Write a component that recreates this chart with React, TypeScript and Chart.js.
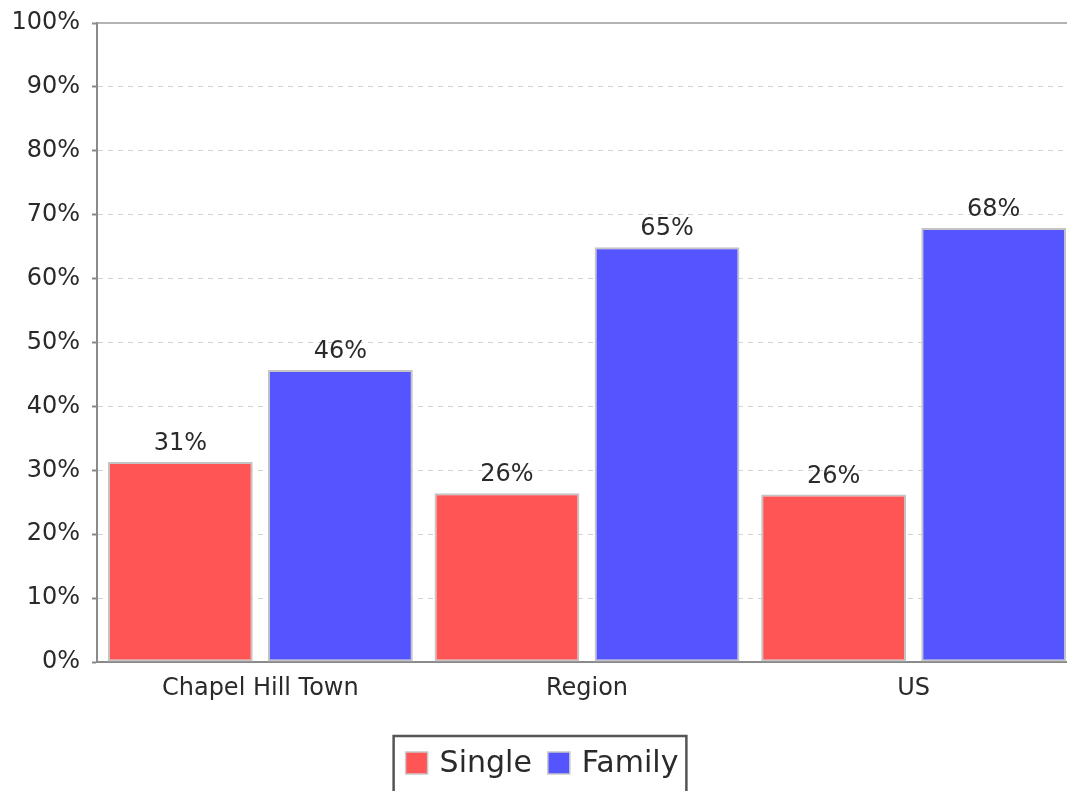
import React, { useEffect, useRef } from "react";
import { Chart, registerables } from "chart.js";

Chart.register(...registerables);

const categories = ["Chapel Hill Town", "Region", "US"];
const seriesNames = ["Single", "Family"];
const singleValues = [31.3, 26.4, 26.2];
const familyValues = [45.7, 64.9, 67.9];
const seriesColors = ["#FF5555", "#5555FF"];
const yMin = 0;
const yMax = 100;
const yStep = 10;

const FONT = "'DejaVu Sans', 'Liberation Sans', sans-serif";
const TEXT = "#2a2a2a";
const CANVAS_W = 1077;
const CANVAS_H = 791;

export default function App() {
  const ref = useRef<HTMLCanvasElement | null>(null);

  useEffect(() => {
    const canvas = ref.current;
    if (!canvas) return;

    const valueLabels = {
      id: "valueLabels",
      afterDatasetsDraw(chart: any) {
        const ctx = chart.ctx;
        ctx.save();
        ctx.font = `24px ${FONT}`;
        ctx.fillStyle = TEXT;
        ctx.textAlign = "center";
        ctx.textBaseline = "alphabetic";
        chart.data.datasets.forEach((ds: any, di: number) => {
          const meta = chart.getDatasetMeta(di);
          meta.data.forEach((bar: any, i: number) => {
            const v = ds.data[i] as number;
            ctx.fillText(`${Math.round(v)}%`, bar.x, bar.y - 12);
          });
        });
        ctx.restore();
      },
    };

    const outline = {
      id: "outline",
      afterDraw(chart: any) {
        const { ctx, chartArea } = chart;
        ctx.save();
        ctx.strokeStyle = "#9a9a9a";
        ctx.lineWidth = 1.5;
        ctx.beginPath();
        ctx.moveTo(chartArea.left, chartArea.top);
        ctx.lineTo(chartArea.right, chartArea.top);
        ctx.stroke();
        ctx.restore();
      },
    };

    const boxLegend = {
      id: "boxLegend",
      afterDraw(chart: any) {
        const ctx = chart.ctx;
        ctx.save();
        ctx.font = `30px ${FONT}`;
        const sw = 22;
        const gapSwText = 12;
        const gapItems = 16;
        const padL = 12;
        const padR = 8;
        const items = chart.data.datasets.map((ds: any) => ({
          label: ds.label as string,
          color: ds.backgroundColor as string,
          w: ctx.measureText(ds.label).width,
        }));
        let total = padL + padR;
        items.forEach((it: any, i: number) => {
          total += sw + gapSwText + it.w + (i > 0 ? gapItems : 0);
        });
        const left = chart.width / 2 - total / 2 + 1.5;
        const top = 736;
        ctx.strokeStyle = "#555555";
        ctx.lineWidth = 2.5;
        ctx.strokeRect(left, top, total, 80);
        let x = left + padL;
        const cy = 763;
        items.forEach((it: any) => {
          ctx.fillStyle = it.color;
          ctx.fillRect(x, cy - sw / 2, sw, sw);
          ctx.strokeStyle = "#c8c8c8";
          ctx.lineWidth = 1.5;
          ctx.strokeRect(x, cy - sw / 2, sw, sw);
          x += sw + gapSwText;
          ctx.fillStyle = TEXT;
          ctx.textAlign = "left";
          ctx.textBaseline = "middle";
          ctx.fillText(it.label, x, cy + 1);
          x += it.w + gapItems;
        });
        ctx.restore();
      },
    };

    const barStyle = {
      borderColor: "#c4c4c4",
      borderWidth: 2,
      borderSkipped: false,
      categoryPercentage: 0.98,
      barPercentage: 0.905,
    };

    const chart = new Chart(canvas, {
      type: "bar",
      data: {
        labels: categories,
        datasets: [
          {
            label: seriesNames[0],
            data: singleValues,
            backgroundColor: seriesColors[0],
            ...barStyle,
          },
          {
            label: seriesNames[1],
            data: familyValues,
            backgroundColor: seriesColors[1],
            ...barStyle,
          },
        ],
      },
      options: {
        responsive: false,
        animation: false,
        layout: { padding: { top: 23, right: 0, left: 0, bottom: 0 } },
        plugins: {
          legend: { display: false },
          tooltip: { enabled: false },
          title: { display: false },
        },
        scales: {
          x: {
            grid: { display: false, drawTicks: false },
            border: { display: true, color: "#8a8a8a", width: 2 },
            ticks: {
              color: TEXT,
              font: { family: FONT, size: 24 },
              padding: 12,
              maxRotation: 0,
            },
            afterFit(scale: any) {
              scale.height = 129;
            },
          },
          y: {
            min: yMin,
            max: yMax,
            grid: {
              color: (c: any) =>
                c.tick && (c.tick.value === yMax || c.tick.value === yMin)
                  ? "rgba(0,0,0,0)"
                  : "#d2d2d2",
              lineWidth: 1,
              drawTicks: true,
              tickLength: 5,
              tickColor: "#8a8a8a",
              tickWidth: 2,
            },
            border: { display: true, color: "#8a8a8a", width: 2, dash: [5, 5] },
            ticks: {
              stepSize: yStep,
              color: TEXT,
              font: { family: FONT, size: 24 },
              padding: 12,
              callback: (v: any) => `${v}%`,
            },
            afterFit(scale: any) {
              scale.width = 97;
              scale.paddingTop = 0;
              scale.paddingBottom = 0;
            },
          },
        },
      },
      plugins: [valueLabels, outline, boxLegend],
    });

    return () => chart.destroy();
  }, []);

  return (
    <canvas
      ref={ref}
      width={CANVAS_W}
      height={CANVAS_H}
      style={{ position: "fixed", left: 0, top: 0, width: CANVAS_W, height: CANVAS_H }}
    />
  );
}
